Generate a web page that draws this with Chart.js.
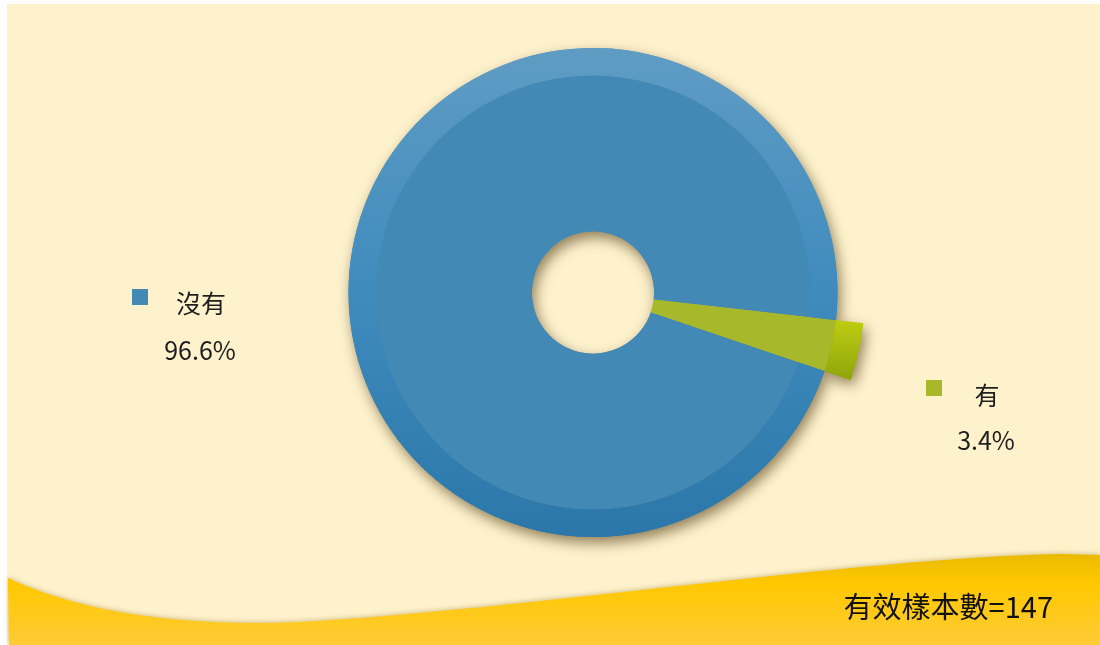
<!DOCTYPE html>
<html lang="zh-Hant">
<head>
  <meta charset="UTF-8">
  <title>有效樣本數=147</title>
  <style>
    body {
      margin: 0;
      padding: 0;
      background: #ffffff;
    }
    #pieChart {
      display: block;
    }
  </style>
</head>
<body>
  <canvas id="pieChart" width="1100" height="645"></canvas>

  <script src="https://cdn.jsdelivr.net/npm/chart.js"></script>
  <script>
    // Données du graphique
    const labels = ['沒有', '有'];
    const percents = [96.6, 3.4];
    const sampleNote = '有效樣本數=147';

    // Position des étiquettes (gauche / droite)
    const labelPos = [
      { box: [132, 289], name: [201, 303], value: [200, 350] },
      { box: [926, 380], name: [987, 395], value: [986, 440] }
    ];

    const FONT = '"Noto Sans CJK TC", "Noto Sans", sans-serif';
    const bodyColors = ['#4389b5', '#a7b92b'];
    const EXT = 27.5; // la part "有" dépasse du cercle

    function rimColor(ctx) {
      const area = ctx.chart.chartArea;
      if (!area) return ctx.dataIndex === 0 ? '#4a8fbf' : '#a8bb12';
      const c = ctx.chart.ctx;
      let g;
      if (ctx.dataIndex === 0) {
        g = c.createLinearGradient(0, area.top, 0, area.bottom);
        g.addColorStop(0, '#5f9cc4');
        g.addColorStop(0.5, '#3f8bbd');
        g.addColorStop(1, '#2c77aa');
      } else {
        const cy = (area.top + area.bottom) / 2;
        g = c.createLinearGradient(0, cy + 25, 0, cy + 88);
        g.addColorStop(0, '#bfcf12');
        g.addColorStop(1, '#8fa40a');
      }
      return g;
    }

    // Fond crème + vague jaune
    const backdrop = {
      id: 'backdrop',
      beforeDraw(chart) {
        const c = chart.ctx;
        c.save();
        c.fillStyle = '#ffffff';
        c.fillRect(0, 0, chart.width, chart.height);
        c.fillStyle = '#fef2cd';
        c.fillRect(7, 4, chart.width - 7, chart.height - 4);

        const g = c.createLinearGradient(0, 550, 0, 645);
        g.addColorStop(0, '#e6b900');
        g.addColorStop(0.35, '#ffc800');
        g.addColorStop(1, '#fecb36');
        c.shadowColor = 'rgba(140, 100, 0, 0.35)';
        c.shadowBlur = 5;
        c.shadowOffsetY = -1;
        c.beginPath();
        c.moveTo(8, 578);
        c.bezierCurveTo(80, 612, 180, 627, 300, 622);
        c.bezierCurveTo(520, 610, 860, 558, 1060, 554);
        c.lineTo(1100, 555);
        c.lineTo(1100, 645);
        c.lineTo(9, 645);
        c.closePath();
        c.fillStyle = g;
        c.fill();
        c.restore();
      }
    };

    // Agrandir la part "有" et ombre portée
    const ringTweaks = {
      id: 'ringTweaks',
      afterUpdate(chart) {
        const rim = chart.getDatasetMeta(0).data[1];
        rim.innerRadius += EXT;
        rim.outerRadius += EXT;
        chart.getDatasetMeta(1).data[1].outerRadius += EXT;
      },
      beforeDatasetsDraw(chart) {
        const c = chart.ctx;
        c.save();
        c.shadowColor = 'rgba(70, 50, 10, 0.6)';
        c.shadowBlur = 14;
        c.shadowOffsetX = 3;
        c.shadowOffsetY = 6;
        chart.getSortedVisibleDatasetMetas().forEach(meta => {
          meta.data.forEach(arc => arc.draw(c));
        });
        c.restore();
      }
    };

    // Étiquettes + note en bas
    const sideLabels = {
      id: 'sideLabels',
      afterDraw(chart) {
        const c = chart.ctx;
        c.save();
        c.textAlign = 'center';
        c.textBaseline = 'middle';
        labels.forEach((lab, i) => {
          const p = labelPos[i];
          c.fillStyle = bodyColors[i];
          c.fillRect(p.box[0], p.box[1], 16, 16);
          c.fillStyle = '#1e1e1e';
          c.font = '25px ' + FONT;
          c.fillText(lab, p.name[0], p.name[1]);
          c.fillText(percents[i].toFixed(1) + '%', p.value[0], p.value[1]);
        });
        c.textAlign = 'right';
        c.font = '29px ' + FONT;
        c.fillStyle = '#111111';
        c.fillText(sampleNote, 1053, 607);
        c.restore();
      }
    };

    const ctx = document.getElementById('pieChart').getContext('2d');
    new Chart(ctx, {
      type: 'doughnut',
      data: {
        labels: labels,
        datasets: [
          {
            data: percents,
            backgroundColor: rimColor,
            borderWidth: 0,
            weight: 27.5
          },
          {
            data: percents,
            backgroundColor: bodyColors,
            borderWidth: 0,
            weight: 156
          }
        ]
      },
      options: {
        responsive: false,
        animation: false,
        events: [],
        cutout: '25%',
        rotation: 108.75,
        layout: {
          padding: { left: 193, right: 107, top: 48, bottom: 108 }
        },
        elements: {
          arc: { hoverOffset: 0, offset: 0 }
        },
        plugins: {
          legend: { display: false },
          tooltip: { enabled: false }
        }
      },
      plugins: [backdrop, ringTweaks, sideLabels]
    });
  </script>
</body>
</html>
